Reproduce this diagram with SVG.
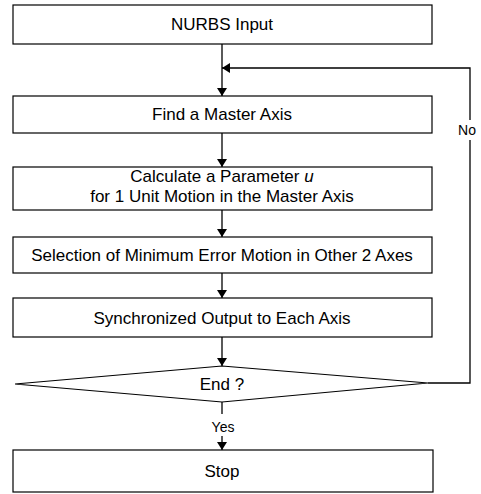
<svg xmlns="http://www.w3.org/2000/svg" width="481" height="494" viewBox="0 0 481 494">
<defs>
<style>
.box{fill:#fff;stroke:#000;stroke-width:1.2}
.t{font-family:"Liberation Sans",Arial,sans-serif;font-size:17px;fill:#000;text-anchor:middle}
.s{font-size:14px}
.ln{fill:none;stroke:#000;stroke-width:1.3}
</style>
<marker id="ah" viewBox="0 0 8 12" refX="8" refY="6" markerWidth="8" markerHeight="12" markerUnits="userSpaceOnUse" orient="auto">
<path d="M0,1 L8,6 L0,11 Z" fill="#000"/>
</marker>
</defs>
<rect width="481" height="494" fill="#fff"/>
<g id="connectors">
<line class="ln" x1="222" y1="44" x2="222" y2="96" marker-end="url(#ah)"/>
<polyline class="ln" points="470,120 470,68 222,68" marker-end="url(#ah)"/>
<polyline class="ln" points="428,383 470,383 470,140"/>
<line class="ln" x1="222" y1="133" x2="222" y2="167" marker-end="url(#ah)"/>
<line class="ln" x1="222" y1="210" x2="222" y2="237" marker-end="url(#ah)"/>
<line class="ln" x1="222" y1="273" x2="222" y2="298" marker-end="url(#ah)"/>
<line class="ln" x1="222" y1="337" x2="222" y2="366" marker-end="url(#ah)"/>
<line class="ln" x1="222" y1="402" x2="222" y2="414"/>
<line class="ln" x1="222" y1="436" x2="222" y2="450" marker-end="url(#ah)"/>
<text class="t s" x="467" y="135">No</text>
<text class="t s" x="223" y="432">Yes</text>
</g>
<g id="n1"><rect class="box" x="13" y="5" width="419" height="39"/><text class="t" x="222" y="30">NURBS Input</text></g>
<g id="n2"><rect class="box" x="13" y="96" width="419" height="37"/><text class="t" x="222" y="120">Find a Master Axis</text></g>
<g id="n3"><rect class="box" x="13" y="167" width="419" height="43"/><text class="t" x="222" y="182">Calculate a Parameter <tspan font-style="italic">u</tspan></text><text class="t" x="222" y="202">for 1 Unit Motion in the Master Axis</text></g>
<g id="n4"><rect class="box" x="13" y="237" width="419" height="36"/><text class="t" x="222" y="261">Selection of Minimum Error Motion in Other 2 Axes</text></g>
<g id="n5"><rect class="box" x="13" y="298" width="419" height="39"/><text class="t" x="222" y="324">Synchronized Output to Each Axis</text></g>
<g id="n6"><polygon class="box" points="222,366 428,383 222,402 15,384"/><text class="t" x="222" y="390">End ?</text></g>
<g id="n7"><rect class="box" x="13" y="450" width="420" height="42"/><text class="t" x="222" y="477">Stop</text></g>
</svg>
